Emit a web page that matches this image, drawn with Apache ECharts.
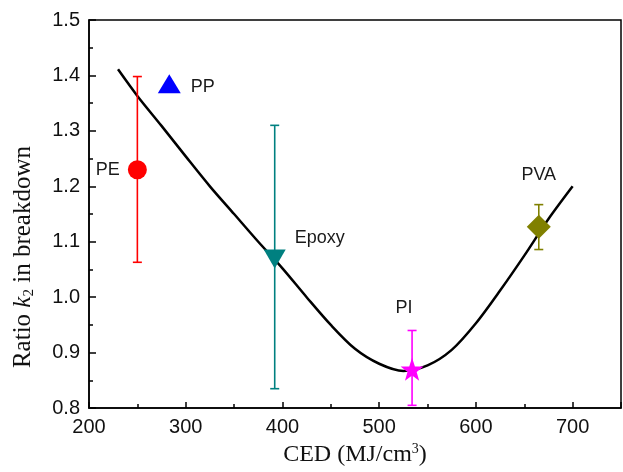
<!DOCTYPE html>
<html>
<head>
<meta charset="utf-8">
<script src="https://cdn.jsdelivr.net/npm/echarts@6/dist/echarts.min.js"></script>
<style>
html,body{margin:0;padding:0;background:#fff;}
#chart{width:623px;height:472px;}
</style>
</head>
<body>
<div id="chart"></div>
<script>
// ---- data ----
var materials = ['PE', 'PP', 'Epoxy', 'PI', 'PVA'];
var cedValues = [250, 283, 392, 534, 665];
var ratioValues = [1.230, 1.385, 1.069, 0.870, 1.127];
var errLow = [1.063, null, 0.835, 0.805, 1.086];
var errHigh = [1.398, null, 1.310, 0.940, 1.167];

var curveX = [230, 250, 275, 300, 325, 350, 375, 400, 425, 450, 475, 500, 525, 550, 575, 600, 625, 650, 675, 700];
var curveY = [1.411, 1.363, 1.309, 1.254, 1.200, 1.150, 1.100, 1.052, 1.000, 0.950, 0.907, 0.880, 0.867, 0.877, 0.905, 0.953, 1.012, 1.075, 1.141, 1.200];

var xTicks = [200, 300, 400, 500, 600, 700];
var yTicks = [0.8, 0.9, 1.0, 1.1, 1.2, 1.3, 1.4, 1.5];

// ---- styles (not data) ----
var starPath = 'path://M0,-10 L2.35,-3.24 L9.51,-3.09 L3.8,1.24 L5.88,8.09 L0,4 L-5.88,8.09 L-3.8,1.24 L-9.51,-3.09 L-2.35,-3.24 Z';
var pointStyles = {
  PE:    {color: '#ff0000', symbol: 'circle',   size: 19, rotate: 0,   label: {position: 'left',  distance: 8, offset: [0, 0]}},
  PP:    {color: '#0000ff', symbol: 'triangle', size: [23, 19], rotate: 0,   label: {position: 'right', distance: 10, offset: [0, 3]}},
  Epoxy: {color: '#008080', symbol: 'triangle', size: [22, 19], rotate: 180, label: {position: 'right', distance: 6, offset: [3, -21]}},
  PI:    {color: '#ff00ff', symbol: starPath,   size: 23, rotate: 0,   label: {position: 'top',   distance: 5, offset: [-8, -36]}},
  PVA:   {color: '#808000', symbol: 'diamond',  size: 24, rotate: 0,   label: {position: 'top',   distance: 5, offset: [0, -26]}}
};

var curveData = curveX.map(function (x, i) { return [x, curveY[i]]; });

var pointData = materials.map(function (m, i) {
  var s = pointStyles[m];
  return {
    name: m,
    value: [cedValues[i], ratioValues[i]],
    symbol: s.symbol,
    symbolSize: s.size,
    symbolRotate: s.rotate,
    itemStyle: {color: s.color, opacity: 1},
    label: {
      show: true,
      formatter: m,
      position: s.label.position,
      distance: s.label.distance,
      offset: s.label.offset,
      color: '#1a1a1a',
      fontSize: 18,
      fontFamily: 'Liberation Sans, Arial, sans-serif'
    }
  };
});

var errData = [];
materials.forEach(function (m, i) {
  if (errLow[i] != null) errData.push([cedValues[i], errLow[i], errHigh[i], i]);
});

var chart = echarts.init(document.getElementById('chart'), null, {renderer: 'canvas'});

var tickFont = {fontSize: 20, color: '#111', fontFamily: 'Liberation Sans, Arial, sans-serif'};
var serif = 'Liberation Serif, Times New Roman, serif';

chart.setOption({
  animation: false,
  backgroundColor: '#fff',
  grid: {left: 89, right: 2, top: 20, bottom: 59, show: true, borderColor: '#000', borderWidth: 1.5, backgroundColor: 'transparent'},
  xAxis: {
    type: 'value', min: 200, max: 750, interval: 100,
    axisLine: {show: true, lineStyle: {color: '#000', width: 1.5}},
    axisTick: {show: true, inside: true, length: 6, lineStyle: {color: '#000', width: 1.5}},
    minorTick: {show: true, splitNumber: 2, length: 4, lineStyle: {color: '#000', width: 1.5}},
    splitLine: {show: false},
    axisLabel: Object.assign({margin: 9, showMaxLabel: false, formatter: function (v) { return xTicks.indexOf(v) >= 0 ? String(v) : ''; }}, tickFont),
    name: '{a|CED (MJ/cm}{sup|3}{a|)}',
    nameLocation: 'middle',
    nameGap: 30,
    nameTextStyle: {
      rich: {
        a: {fontSize: 24, fontFamily: serif, color: '#111', lineHeight: 26, verticalAlign: 'middle'},
        sup: {fontSize: 14, fontFamily: serif, color: '#111', lineHeight: 12, verticalAlign: 'top'}
      }
    }
  },
  yAxis: {
    type: 'value', min: 0.8, max: 1.5, interval: 0.1,
    axisLine: {show: true, lineStyle: {color: '#000', width: 1.5}},
    axisTick: {show: true, inside: true, length: 7, lineStyle: {color: '#000', width: 1.5}},
    minorTick: {show: true, splitNumber: 2, length: 4, lineStyle: {color: '#000', width: 1.5}},
    splitLine: {show: false},
    axisLabel: Object.assign({margin: 9, formatter: function (v) {
      var t = yTicks.find(function (y) { return Math.abs(y - v) < 1e-6; });
      return t != null ? t.toFixed(1) : '';
    }}, tickFont),
    name: '{a|Ratio }{k|k}{sub|2}{a| in breakdown}',
    nameLocation: 'middle',
    nameGap: 52,
    nameTextStyle: {
      padding: [0, 86, 0, 0],
      rich: {
        a: {fontSize: 25, fontFamily: serif, color: '#111', lineHeight: 28, verticalAlign: 'middle'},
        k: {fontSize: 25, fontFamily: serif, fontStyle: 'italic', color: '#111', lineHeight: 28, verticalAlign: 'middle'},
        sub: {fontSize: 15, fontFamily: serif, color: '#111', lineHeight: 12, verticalAlign: 'bottom'}
      }
    }
  },
  series: [
    {
      type: 'line',
      data: curveData,
      smooth: 0.3,
      showSymbol: false,
      lineStyle: {color: '#000', width: 2.5},
      z: 2,
      silent: true
    },
    {
      type: 'custom',
      data: errData,
      z: 3,
      silent: true,
      renderItem: function (params, api) {
        var x = api.value(0);
        var lo = api.coord([x, api.value(1)]);
        var hi = api.coord([x, api.value(2)]);
        var color = pointStyles[materials[api.value(3)]].color;
        var cap = 4.5;
        var st = {stroke: color, lineWidth: 1.6};
        return {
          type: 'group',
          children: [
            {type: 'line', shape: {x1: lo[0], y1: lo[1], x2: hi[0], y2: hi[1]}, style: st},
            {type: 'line', shape: {x1: lo[0] - cap, y1: lo[1], x2: lo[0] + cap, y2: lo[1]}, style: st},
            {type: 'line', shape: {x1: hi[0] - cap, y1: hi[1], x2: hi[0] + cap, y2: hi[1]}, style: st}
          ]
        };
      }
    },
    {
      type: 'scatter',
      data: pointData,
      z: 4,
      silent: true
    }
  ]
});
</script>
</body>
</html>
